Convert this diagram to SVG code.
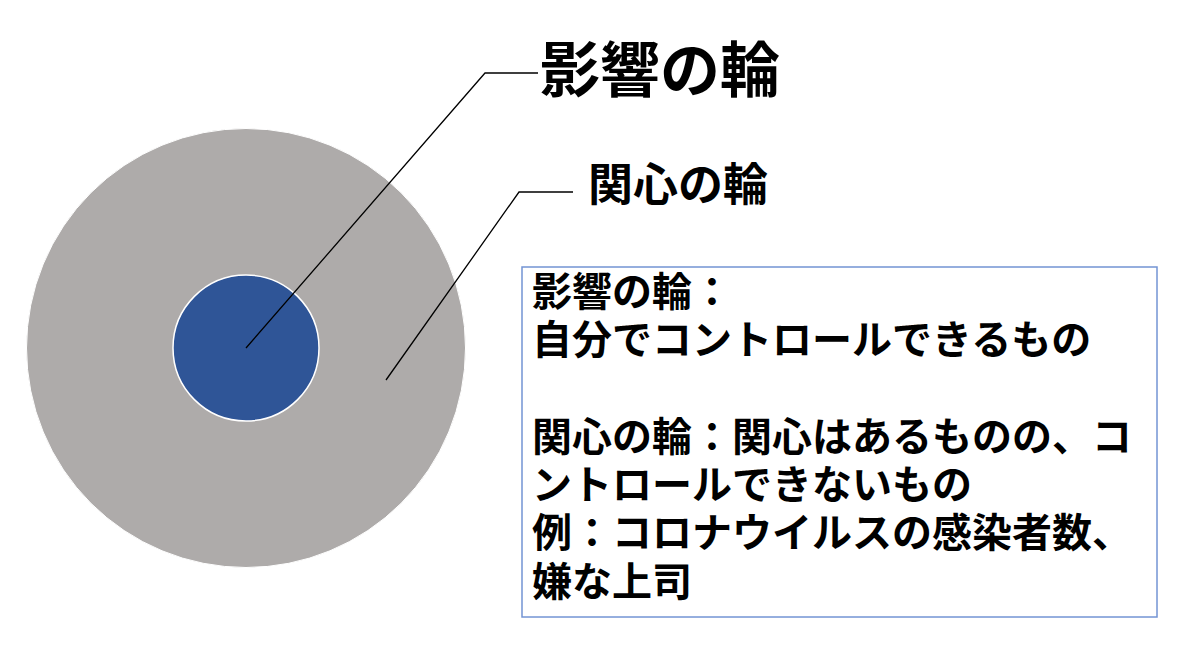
<svg xmlns="http://www.w3.org/2000/svg" width="1200" height="652" viewBox="0 0 1200 652">
<style>
.t{font-family:"Noto Sans CJK JP","Noto Sans CJK SC",sans-serif;font-weight:bold;fill:#000}
.ln{stroke:#000;stroke-width:1.3;fill:none}
</style>
<rect width="1200" height="652" fill="#fff"/>
<g id="outer">
<circle cx="246" cy="348" r="219.5" fill="#aeabaa" stroke="#ffffff" stroke-width="1"/>
</g>
<g id="inner">
<circle cx="246" cy="348" r="73" fill="#2f5597" stroke="#ffffff" stroke-width="1.5"/>
</g>
<g id="connectors">
<polyline class="ln" points="246,348 485,73 538,73"/>
<polyline class="ln" points="386,380 519,192 573,192"/>
</g>
<g id="label-influence">
<text class="t" x="540" y="92" font-size="60">影響の輪</text>
</g>
<g id="label-concern">
<text class="t" x="588" y="201" font-size="45">関心の輪</text>
</g>
<g id="legend">
<rect x="522" y="267" width="635" height="350" fill="#fff" stroke="#7394d4" stroke-width="1.5"/>
<text class="t" font-size="40">
<tspan x="532" y="306">影響の輪：</tspan>
<tspan x="532" y="354">自分でコントロールできるもの</tspan>
<tspan x="532" y="451">関心の輪：関心はあるものの、コ</tspan>
<tspan x="532" y="499">ントロールできないもの</tspan>
<tspan x="532" y="547">例：コロナウイルスの感染者数、</tspan>
<tspan x="532" y="596">嫌な上司</tspan>
</text>
</g>
</svg>
